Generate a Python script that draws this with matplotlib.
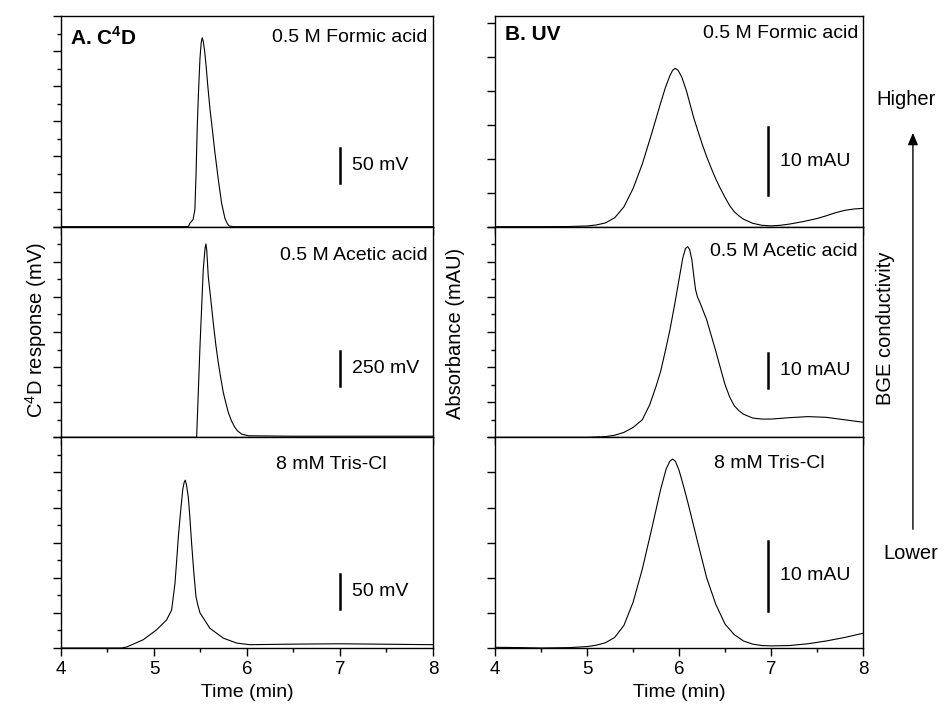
import matplotlib
matplotlib.use("Agg")
import matplotlib.pyplot as plt
from matplotlib.patches import FancyArrowPatch
from matplotlib.ticker import MultipleLocator, NullLocator

plt.rcParams["font.family"] = ["Liberation Sans", "DejaVu Sans"]

# --- C4D traces (time in min, response in mV) ---
c4d_formic_t = [4.0, 5.30, 5.37, 5.387, 5.42, 5.44, 5.452, 5.466, 5.48, 5.495,
                5.508, 5.519, 5.53, 5.545, 5.56, 5.58, 5.602, 5.63, 5.656,
                5.692, 5.728, 5.763, 5.79, 5.81, 5.85, 8.0]
c4d_formic_y = [0, 0, 0, 5, 10, 24, 72, 144, 195, 240,
                262, 269, 264, 250, 230, 199, 168, 136, 105,
                67, 33, 12, 4, 1, 0, 0]

c4d_acetic_t = [4.0, 5.45, 5.459, 5.495, 5.53, 5.55, 5.559, 5.568, 5.584, 5.61,
                5.638, 5.665, 5.692, 5.72, 5.746, 5.775, 5.80, 5.835, 5.871,
                5.9, 5.943, 6.014, 6.5, 7.0, 8.0]
c4d_acetic_y = [0, 0, 0, 649, 1193, 1350, 1377, 1330, 1145, 990,
                814, 660, 530, 415, 318, 240, 176, 115, 70,
                45, 23, 11, 8, 8, 8]

c4d_tris_t = [4.0, 4.65, 4.706, 4.885, 5.029, 5.136, 5.19, 5.226, 5.25, 5.262,
              5.28, 5.298, 5.31, 5.325, 5.337, 5.35, 5.369, 5.385, 5.405,
              5.43, 5.452, 5.47, 5.495, 5.602, 5.746, 5.89, 6.03,
              6.5, 7.0, 7.4, 8.0]
c4d_tris_y = [0, 0, 1.4, 11.8, 26, 40, 54, 92, 135, 158,
              185, 210, 226, 236, 239, 232, 215, 188, 149,
              105, 73, 62, 50, 28, 14, 7, 4.7,
              5.5, 6, 5.5, 4.7]

# --- UV traces (time in min, absorbance in mAU) ---
uv_formic_t = [4.0, 4.5, 4.8, 5.0, 5.1, 5.2, 5.3, 5.4, 5.5, 5.6, 5.7, 5.8,
               5.85, 5.9, 5.93, 5.957, 5.99, 6.03, 6.08, 6.12, 6.16, 6.2,
               6.25, 6.3, 6.35, 6.4, 6.45, 6.5, 6.55, 6.6, 6.65, 6.7, 6.8,
               6.9, 7.0, 7.1, 7.2, 7.35, 7.5, 7.6, 7.7, 7.8, 7.9, 8.0]
uv_formic_y = [0, 0, 0.02, 0.1, 0.25, 0.55, 1.3, 2.9, 5.6, 9.2, 13.6, 18.2,
               20.4, 22.2, 23.0, 23.3, 23.0, 22.0, 20.0, 18.0, 16.0, 14.3,
               12.2, 10.3, 8.6, 7.0, 5.6, 4.3, 3.1, 2.2, 1.6, 1.1, 0.5,
               0.2, 0.12, 0.2, 0.38, 0.75, 1.2, 1.6, 2.05, 2.4, 2.6, 2.7]

uv_acetic_t = [4.0, 5.0, 5.2, 5.3, 5.4, 5.5, 5.6, 5.68, 5.75, 5.8, 5.85,
               5.9, 5.95, 6.0, 6.04, 6.07, 6.094, 6.115, 6.14, 6.16, 6.18,
               6.2, 6.23, 6.27, 6.3, 6.35, 6.4, 6.45, 6.5, 6.55, 6.6, 6.65,
               6.7, 6.8, 6.9, 7.0, 7.2, 7.4, 7.6, 7.8, 8.0]
uv_acetic_y = [0, 0, 0.2, 0.6, 1.4, 2.8, 5.0, 9.2, 14.5, 18.8, 24.5,
               30.5, 37.5, 45.0, 51.0, 53.8, 54.3, 53.5, 50.5, 46.0, 42.0,
               40.0, 38.2, 35.5, 33.5, 29.0, 24.5, 19.7, 15.0, 11.5, 9.0, 7.6,
               6.6, 5.5, 5.2, 5.2, 5.6, 5.9, 5.7, 5.0, 4.3]

uv_tris_t = [4.0, 4.3, 4.5, 4.8, 5.0, 5.1, 5.2, 5.3, 5.4, 5.5, 5.6, 5.7,
             5.8, 5.86, 5.9, 5.93, 5.96, 6.0, 6.05, 6.1, 6.2, 6.3, 6.4,
             6.5, 6.6, 6.7, 6.8, 6.9, 7.0, 7.2, 7.4, 7.6, 7.8, 8.0]
uv_tris_y = [0.1, 0.05, 0, 0.05, 0.2, 0.4, 0.75, 1.5, 3.2, 6.5, 11.2, 16.8,
             22.6, 25.5, 26.6, 26.9, 26.6, 25.3, 23.0, 20.5, 15.2, 10.0, 6.2,
             3.4, 1.9, 1.0, 0.55, 0.35, 0.3, 0.35, 0.6, 1.0, 1.5, 2.1]

bge_labels = ["0.5 M Formic acid", "0.5 M Acetic acid", "8 mM Tris-Cl"]
c4d_scale = ["50 mV", "250 mV", "50 mV"]
uv_scale = ["10 mAU", "10 mAU", "10 mAU"]

fig = plt.figure(figsize=(9.48, 7.04), dpi=100)

H = 0.29924
BOTTOM = 0.07955
LEFT_X, LEFT_W = 0.0643, 0.3924
RIGHT_X, RIGHT_W = 0.5222, 0.3882

# per panel: (trace t, trace y, ylim, major, minor, bar lo, bar hi, label pos)
left_panels = [
    (c4d_formic_t, c4d_formic_y, 300, 50, 25, 62, 112, (0.986, 0.897, "right")),
    (c4d_acetic_t, c4d_acetic_y, 1500, 250, 125, 365, 615, (0.986, 0.863, "right")),
    (c4d_tris_t, c4d_tris_y, 300, 50, 25, 55, 105, (0.726, 0.87, "center")),
]
right_panels = [
    (uv_formic_t, uv_formic_y, 31, 5, None, 4.6, 14.6, (0.986, 0.917, "right")),
    (uv_acetic_t, uv_acetic_y, 60, 10, 5, 14, 24, (0.986, 0.88, "right")),
    (uv_tris_t, uv_tris_y, 30, 5, None, 5.3, 15.3, (0.745, 0.874, "center")),
]


def make_panel(x0, w, row, spec, bar_x, scale_text):
    t, y, ytop, major, minor, b0, b1, (lx, ly, lha) = spec
    ax = fig.add_axes([x0, BOTTOM + (2 - row) * H, w, H])
    ax.plot(t, y, color="black", lw=0.8)
    ax.set_xlim(4, 8)
    ax.set_ylim(0, ytop)
    ax.xaxis.set_major_locator(MultipleLocator(1))
    ax.xaxis.set_minor_locator(MultipleLocator(0.5))
    ax.yaxis.set_major_locator(MultipleLocator(major))
    if minor:
        ax.yaxis.set_minor_locator(MultipleLocator(minor))
    else:
        ax.yaxis.set_minor_locator(NullLocator())
    ax.tick_params(which="major", direction="out", length=6, width=1,
                   labelsize=13.5)
    ax.tick_params(which="minor", direction="out", length=3, width=1)
    ax.tick_params(axis="y", labelleft=False)
    if row < 2:
        ax.tick_params(axis="x", labelbottom=False)
    else:
        ax.set_xlabel("Time (min)", fontsize=14, labelpad=4)
    for s in ax.spines.values():
        s.set_linewidth(1.0)

    # scale bar
    ax.plot([bar_x, bar_x], [b0, b1], color="black", lw=1.8)
    ax.text(bar_x + 0.13, (b0 + b1) / 2, scale_text, fontsize=14,
            ha="left", va="center")
    ax.text(lx, ly, bge_labels[row], transform=ax.transAxes, fontsize=14,
            ha=lha, va="center")
    return ax


left_axes = [make_panel(LEFT_X, LEFT_W, i, p, 7.0, c4d_scale[i])
             for i, p in enumerate(left_panels)]
right_axes = [make_panel(RIGHT_X, RIGHT_W, i, p, 6.97, uv_scale[i])
              for i, p in enumerate(right_panels)]

left_axes[0].text(0.024, 0.9, r"A. C$^\mathregular{4}$D",
                  transform=left_axes[0].transAxes,
                  fontsize=15, fontweight="bold", ha="left", va="center")
right_axes[0].text(0.027, 0.912, "B. UV", transform=right_axes[0].transAxes,
                   fontsize=15, fontweight="bold", ha="left", va="center")

fig.text(0.038, 0.531, r"C$^\mathregular{4}$D response (mV)", rotation=90,
         fontsize=14.5, ha="center", va="center")
fig.text(0.480, 0.526, "Absorbance (mAU)", rotation=90, fontsize=14.5,
         ha="center", va="center")

# conductivity arrow on the right
fig.text(0.934, 0.534, "BGE conductivity", rotation=90, fontsize=14.5,
         ha="center", va="center")
fig.text(0.956, 0.858, "Higher", fontsize=14.5, ha="center", va="center")
fig.text(0.961, 0.214, "Lower", fontsize=14.5, ha="center", va="center")
fig.add_artist(FancyArrowPatch(
    (0.963, 1 - 532 / 704), (0.963, 1 - 130 / 704),
    transform=fig.transFigure, arrowstyle="-|>,head_length=0.6,head_width=0.25",
    mutation_scale=12, lw=1.0, color="black"))

fig.savefig("out.png", dpi=100)
